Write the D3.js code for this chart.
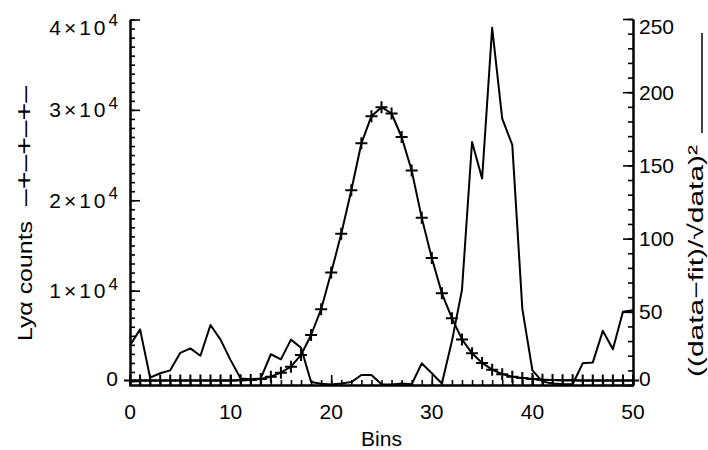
<!DOCTYPE html>
<html><head><meta charset="utf-8">
<script src="https://cdn.jsdelivr.net/npm/d3@7"></script>
<style>body{margin:0;background:#fff}svg{display:block}text{font-family:"Liberation Sans",Arial,sans-serif;fill:#000}</style>
</head><body><svg id="c" width="708" height="450"></svg>
<script>
const bins = d3.range(0, 51);
const counts = [50,50,50,50,50,50,50,50,50,50,60,80,120,220,480,920,1580,2880,5090,7950,12000,16300,21100,26300,29300,30300,29600,27000,23300,18050,13600,9700,6950,4600,3060,2000,1250,760,480,330,220,150,110,90,70,60,50,50,50,50,50];
const resid = [27,38,5,8,10,22,25,20,41,31,17,4.5,4,4.5,21,17.5,31,25.5,2,0.8,0.3,1,2,6.8,6.8,0.5,0.3,1,0.5,14.8,8,1,30,65,166,141,244,182,164,52,10,2.3,1,0.5,0.5,14.8,15.3,37,24.4,50,51];
const xTicks = [0,10,20,30,40,50];
const yLeftTicks = [0,10000,20000,30000,40000];
const yLeftLabels = [["0",""],["1×10","4"],["2×10","4"],["3×10","4"],["4×10","4"]];
const yRightTicks = [0,50,100,150,200,250];

const svg = d3.select("#c");
const x = d3.scaleLinear().domain([0,50]).range([130,633]);
const yL = d3.scaleLinear().domain([-443,40000]).range([385,19.5]);
const yR = d3.scaleLinear().domain([0,250]).range([385,19]);
const FS = 21;

function styleAxis(g){ g.select(".domain").attr("stroke","#000").attr("stroke-width",2); g.selectAll(".tick line").attr("stroke","#000").attr("stroke-width",1.6); g.selectAll(".tick text").remove(); }

// minor + major ticks
svg.append("g").attr("transform","translate(130,0)")
  .call(d3.axisLeft(yL).tickValues(d3.range(0,40001,1000)).tickSizeInner(-5).tickSizeOuter(0).tickFormat(""))
  .call(styleAxis);
svg.append("g").attr("transform","translate(130,0)")
  .call(d3.axisLeft(yL).tickValues(yLeftTicks).tickSizeInner(-10).tickSizeOuter(0).tickFormat(""))
  .call(styleAxis);
svg.append("g").attr("transform","translate(633,0)")
  .call(d3.axisRight(yR).tickValues(d3.range(0,251,10)).tickSizeInner(-5).tickSizeOuter(0).tickFormat(""))
  .call(styleAxis);
svg.append("g").attr("transform","translate(633,0)")
  .call(d3.axisRight(yR).tickValues(yRightTicks).tickSizeInner(-10).tickSizeOuter(0).tickFormat(""))
  .call(styleAxis);
svg.append("g").attr("transform","translate(0,385)")
  .call(d3.axisBottom(x).tickValues(d3.range(0,51,1)).tickSizeInner(-5).tickSizeOuter(0).tickFormat(""))
  .call(styleAxis);
svg.append("g").attr("transform","translate(0,385)")
  .call(d3.axisBottom(x).tickValues(xTicks).tickSizeInner(-10).tickSizeOuter(0).tickFormat(""))
  .call(styleAxis);

// labels
const clamp = (v,a,b)=>Math.max(a,Math.min(b,v));
yLeftTicks.forEach((t,i)=>{
  const tx = svg.append("text").attr("x",118).attr("y",clamp(yL(t),27,378)).attr("dy","0.36em")
    .attr("text-anchor","end").attr("font-size",FS);
  if (yLeftLabels[i][1]) {
    tx.append("tspan").attr("letter-spacing","3px").text(yLeftLabels[i][0]);
    tx.append("tspan").attr("dy","-0.5em").attr("font-size",17).text(yLeftLabels[i][1]);
  } else tx.text(yLeftLabels[i][0]);
});
yRightTicks.forEach(t=>{
  svg.append("text").attr("x",639).attr("y",clamp(yR(t),26,378)).attr("dy","0.36em")
    .attr("font-size",FS).text(t);
});
xTicks.forEach(t=>{
  svg.append("text").attr("x",x(t)).attr("y",419).attr("text-anchor","middle").attr("font-size",FS).text(t);
});
svg.append("text").attr("x",x(25)).attr("y",446).attr("text-anchor","middle").attr("font-size",FS).text("Bins");
svg.append("text").attr("transform","translate(32,281) rotate(-90)").attr("text-anchor","middle").attr("font-size",FS)
  .attr("textLength",120).attr("lengthAdjust","spacingAndGlyphs").text("Lyα counts");
svg.append("text").attr("transform","translate(32,146) rotate(-90)").attr("text-anchor","middle").attr("font-size",23)
  .attr("textLength",120).attr("lengthAdjust","spacingAndGlyphs").text("–+–+–+–");
svg.append("text").attr("transform","translate(703,261) rotate(-90)").attr("text-anchor","middle").attr("font-size",FS)
  .attr("textLength",232).attr("lengthAdjust","spacingAndGlyphs").text("((data−fit)/√data)²");
svg.append("line").attr("x1",702).attr("x2",702).attr("y1",133).attr("y2",33).attr("stroke","#000").attr("stroke-width",1.5);

// series
const lineL = d3.line().x((d,i)=>x(bins[i])).y(d=>yL(d));
const lineR = d3.line().x((d,i)=>x(bins[i])).y(d=>yR(d));
svg.append("path").datum(resid).attr("d",lineR).attr("fill","none").attr("stroke","#000").attr("stroke-width",2).attr("stroke-linejoin","round");
svg.append("path").datum(counts).attr("d",lineL).attr("fill","none").attr("stroke","#000").attr("stroke-width",2).attr("stroke-linejoin","round");
svg.append("g").selectAll("path").data(counts).join("path")
  .attr("d",(d,i)=>`M${x(bins[i])-6},${yL(d)}h12M${x(bins[i])},${yL(d)-6}v12`)
  .attr("stroke","#000").attr("stroke-width",2);
</script></body></html>
